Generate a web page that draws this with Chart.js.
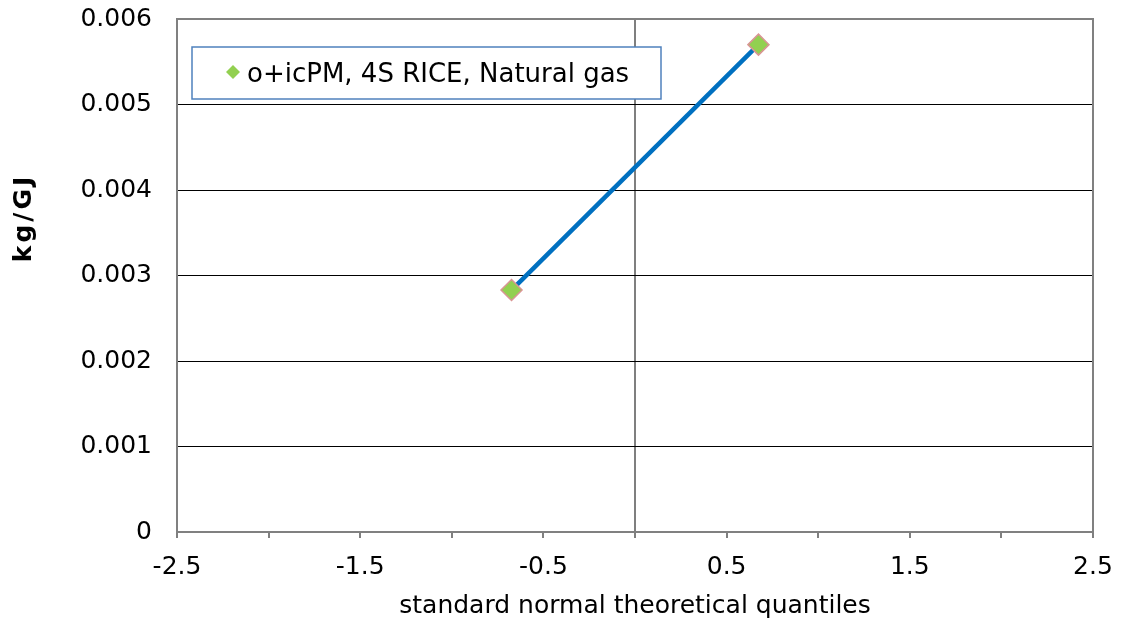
<!DOCTYPE html>
<html><head><meta charset="utf-8">
<script src="https://cdn.jsdelivr.net/npm/chart.js@4/dist/chart.umd.min.js"></script>
<style>html,body{margin:0;padding:0;background:#fff;} #wrap{width:1128px;height:627px;}</style>
</head><body><div id="wrap"><canvas id="c" width="1128" height="627"></canvas></div>
<script>
const seriesName = 'o+icPM, 4S RICE, Natural gas';
const quantiles = [-0.674, 0.674];
const values = [0.00283, 0.0057];
const fitX = [-0.674, 0.674];
const fitY = [0.00283, 0.0057];
const xTickLabels = ['-2.5', '-1.5', '-0.5', '0.5', '1.5', '2.5'];
const yTickLabels = ['0', '0.001', '0.002', '0.003', '0.004', '0.005', '0.006'];
const xTitle = 'standard normal theoretical quantiles';
const yTitle = 'kg/GJ';

const FONT = "'DejaVu Sans', Verdana, sans-serif";
const markerFill = '#92D050';
const markerBorder = '#D99594';

const framePlugin = {
  id: 'frame',
  beforeDatasetsDraw(chart) {
    const {ctx, chartArea: a} = chart;
    ctx.save();
    ctx.strokeStyle = '#808080';
    ctx.lineWidth = 2;
    ctx.strokeRect(a.left, a.top, a.right - a.left, a.bottom - a.top);
    ctx.restore();
  },
  afterDraw(chart) {
    const ctx = chart.ctx;
    // y axis title
    ctx.save();
    ctx.translate(24, 218);
    ctx.rotate(-Math.PI / 2);
    ctx.font = "bold 25px " + FONT;
    try { ctx.letterSpacing = '3px'; } catch (e) {}
    ctx.fillStyle = '#000';
    ctx.textAlign = 'center';
    ctx.textBaseline = 'middle';
    ctx.fillText(yTitle, 0, 0);
    ctx.restore();
    // legend box
    ctx.save();
    ctx.fillStyle = '#fff';
    ctx.fillRect(192, 47, 469, 52);
    ctx.strokeStyle = '#4F81BD';
    ctx.lineWidth = 1.5;
    ctx.strokeRect(192, 47, 469, 52);
    ctx.beginPath();
    const cx = 233, cy = 72, r = 7;
    ctx.moveTo(cx, cy - r); ctx.lineTo(cx + r, cy); ctx.lineTo(cx, cy + r); ctx.lineTo(cx - r, cy); ctx.closePath();
    ctx.fillStyle = markerFill;
    ctx.fill();
    ctx.font = "26px " + FONT;
    ctx.fillStyle = '#000';
    ctx.textAlign = 'left';
    ctx.textBaseline = 'alphabetic';
    ctx.fillText(chart.data.datasets[0].label, 247, 82);
    ctx.restore();
  }
};

new Chart(document.getElementById('c'), {
  type: 'scatter',
  data: {
    datasets: [
      {
        label: seriesName,
        data: quantiles.map((x, i) => ({x: x, y: values[i]})),
        pointStyle: 'rectRot',
        pointRadius: 10.5,
        pointHoverRadius: 10.5,
        pointBackgroundColor: markerFill,
        pointBorderColor: markerBorder,
        pointBorderWidth: 1.5,
        showLine: false
      },
      {
        label: 'fit',
        data: fitX.map((x, i) => ({x: x, y: fitY[i]})),
        showLine: true,
        borderColor: '#0070C0',
        borderWidth: 4.5,
        pointRadius: 0,
        fill: false
      }
    ]
  },
  options: {
    responsive: false,
    devicePixelRatio: 1,
    animation: false,
    layout: {padding: {left: 0, right: 35, top: 19, bottom: 0}},
    plugins: {legend: {display: false}, tooltip: {enabled: false}},
    scales: {
      x: {
        type: 'linear', min: -2.5, max: 2.5,
        border: {display: false},
        grid: {
          color: (c) => (c.tick && c.tick.value === 0) ? '#7f7f7f' : 'rgba(0,0,0,0)',
          tickColor: '#7f7f7f',
          lineWidth: 2,
          tickLength: 6
        },
        ticks: {
          stepSize: 0.5, autoSkip: false, maxRotation: 0, padding: 14,
          color: '#000', font: {family: FONT, size: 25},
          callback: (v) => xTickLabels.includes(String(v)) ? String(v) : ''
        },
        title: {display: true, text: xTitle, color: '#000', font: {family: FONT, size: 25}, padding: {top: 0, bottom: 6}},
        afterFit: (s) => { s.height = 95; s.paddingLeft = 0; s.paddingRight = 0; }
      },
      y: {
        min: 0, max: 0.006,
        border: {display: false},
        grid: {color: '#000', lineWidth: 1, drawTicks: false},
        ticks: {
          stepSize: 0.001, padding: 25, color: '#000', font: {family: FONT, size: 25},
          callback: (v, i) => yTickLabels[i]
        },
        afterFit: (s) => { s.width = 177; s.paddingTop = 0; s.paddingBottom = 0; }
      }
    }
  },
  plugins: [framePlugin]
});
</script></body></html>
